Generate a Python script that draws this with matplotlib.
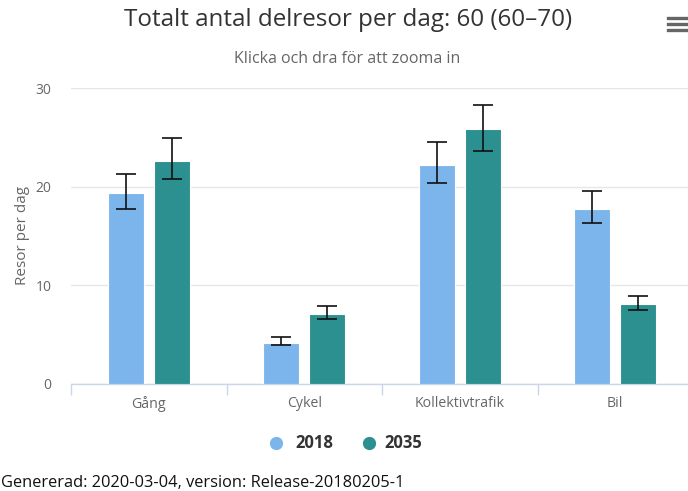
import matplotlib
matplotlib.use("Agg")
import matplotlib.pyplot as plt
from matplotlib.lines import Line2D
import numpy as np

# data
categories = ["Gång", "Cykel", "Kollektivtrafik", "Bil"]
years = ["2018", "2035"]
values_2018 = [19.3, 4.1, 22.2, 17.7]
values_2035 = [22.6, 7.1, 25.8, 8.1]
err_low_2018 = [17.7, 3.9, 20.4, 16.3]
err_high_2018 = [21.3, 4.7, 24.5, 19.6]
err_low_2035 = [20.8, 6.6, 23.6, 7.5]
err_high_2035 = [24.9, 7.9, 28.3, 8.9]
yticks = [0, 10, 20, 30]

colors = ["#7cb5ec", "#2b908f"]
plt.rcParams['font.family'] = ['Open Sans', 'DejaVu Sans']

W, H = 688, 491
fig = plt.figure(figsize=(W / 100, H / 100), dpi=100)
ax = fig.add_axes([71 / W, (H - 383.7) / H, 622 / W, 295.7 / H])

x = np.arange(len(categories))
offset = 0.148
width = 0.232

series = [
    (values_2018, err_low_2018, err_high_2018),
    (values_2035, err_low_2035, err_high_2035),
]
for i, (vals, lo, hi) in enumerate(series):
    pos = x + (i * 2 - 1) * offset
    ax.bar(pos, vals, width=width, color=colors[i], edgecolor="white",
           linewidth=0.8, zorder=3)
    vals_a = np.array(vals)
    yerr = [vals_a - np.array(lo), np.array(hi) - vals_a]
    ax.errorbar(pos, vals, yerr=yerr, fmt="none", ecolor="#111111",
                elinewidth=1.2, capsize=7, capthick=1.2, zorder=4)

ax.set_xlim(-0.5, len(categories) - 0.5)
ax.set_ylim(0, 30)
ax.set_yticks(yticks)
ax.yaxis.grid(True, color="#e6e6e6", linewidth=1)
ax.set_axisbelow(True)

for s in ["top", "right", "left"]:
    ax.spines[s].set_visible(False)
ax.spines["bottom"].set_color("#ccd6eb")
ax.spines["bottom"].set_linewidth(1)

ax.tick_params(axis="y", length=0, colors="#666666", labelsize=10, pad=14)
ax.set_xticks(x)
ax.set_xticklabels(categories)
ax.tick_params(axis="x", length=0, colors="#666666", labelsize=10.2, pad=9)
# category boundary ticks
ax.set_xticks(np.arange(-0.5, len(categories), 1), minor=True)
ax.tick_params(axis="x", which="minor", length=8, color="#ccd6eb", width=1)

ax.set_ylabel("Resor per dag", color="#666666", fontsize=11, labelpad=4)

fig.text(348 / W, 1 - 20 / H, "Totalt antal delresor per dag: 60 (60\u201370)",
         ha="center", va="center", fontsize=17.4, color="#333333")
fig.text(347 / W, 1 - 59 / H, "Klicka och dra för att zooma in",
         ha="center", va="center", fontsize=11.5, color="#666666")

# legend
leg_items = [(276, 295, years[0], colors[0]), (369, 384, years[1], colors[1])]
for mx, tx, label, c in leg_items:
    fig.add_artist(Line2D([mx / W], [1 - 443 / H], marker="o", markersize=8.5,
                          color=c, linestyle="none"))
    fig.text(tx / W, 1 - 443 / H, label, ha="left", va="center",
             fontsize=12, fontweight="bold", color="#333333")

fig.text(1 / W, 1 - 483 / H, "Genererad: 2020-03-04, version: Release-20180205-1",
         ha="left", va="center", fontsize=11.8, color="#111111")

# menu icon
for yy in [18, 24, 30]:
    fig.add_artist(Line2D([668 / W, 688 / W], [1 - yy / H] * 2,
                          color="#666666", linewidth=2.4))

fig.savefig("out.png", dpi=100)
